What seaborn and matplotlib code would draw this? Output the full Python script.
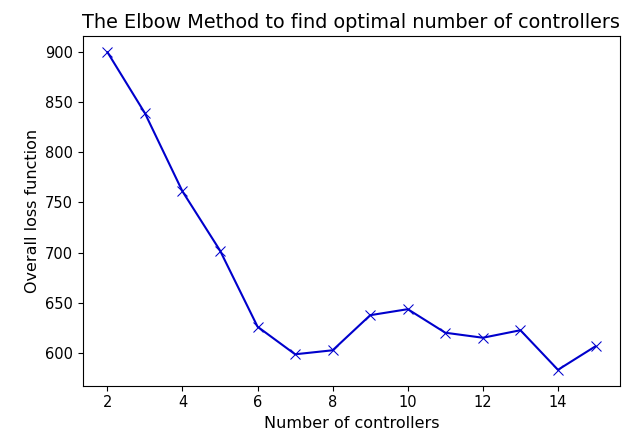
import matplotlib
matplotlib.use("Agg")
import matplotlib.pyplot as plt
import seaborn as sns
import pandas as pd

controllers = [2, 3, 4, 5, 6, 7, 8, 9, 10, 11, 12, 13, 14, 15]
loss = [900, 839, 761, 702, 626, 598.5, 602.5, 637.5, 643.5, 620, 615, 622.5, 583, 606.5]

df = pd.DataFrame({"controllers": controllers, "loss": loss})

sns.set_style("ticks")
plt.rcParams['font.family'] = ['DejaVu Sans']
plt.rcParams['text.color'] = 'black'
plt.rcParams['axes.labelcolor'] = 'black'

fig = plt.figure(figsize=(6.3, 4.38), dpi=100)
ax = fig.add_axes([0.1317, 0.1194, 0.8523, 0.798])
sns.lineplot(data=df, x="controllers", y="loss", marker="x", color="#0000cc",
             markersize=7, markeredgecolor="#0000cc", linewidth=1.5, ax=ax)
ax.set_xticks([2, 4, 6, 8, 10, 12, 14])
ax.set_yticks([600, 650, 700, 750, 800, 850, 900])
ax.tick_params(labelsize=10.5, colors="black")
ax.set_xlabel("Number of controllers", fontsize=11.5, color="black")
ax.set_ylabel("Overall loss function", fontsize=11.5, color="black")
ax.set_title("The Elbow Method to find optimal number of controllers", fontsize=13.9, color="black")
for s in ax.spines.values():
    s.set_color("black")
fig.savefig("out.png", dpi=100)
